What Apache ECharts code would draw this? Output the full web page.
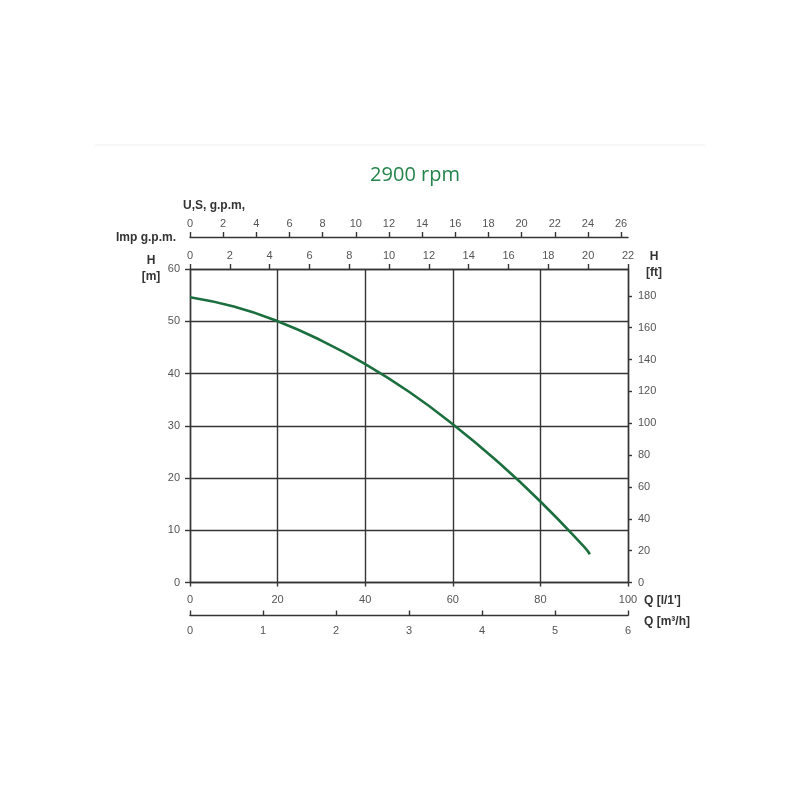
<!DOCTYPE html>
<html>
<head>
<meta charset="utf-8">
<script src="https://cdn.jsdelivr.net/npm/echarts@6/dist/echarts.min.js"></script>
<style>
html,body{margin:0;padding:0;background:#fff;}
#chart{width:800px;height:800px;}
</style>
</head>
<body>
<div id="chart"></div>
<script>
// Pump curve data: flow Q [l/min] and head H [m]
var flowLpm = [0, 10, 20, 30, 40, 50, 60, 70, 80, 90, 91.3];
var headM   = [54.6, 52.8, 50.0, 46.3, 41.8, 36.5, 30.3, 23.3, 15.5, 6.8, 5.4];

// Tick label values
var usGpmTicks = [0, 2, 4, 6, 8, 10, 12, 14, 16, 18, 20, 22, 24, 26];
var ftTicks = [0, 20, 40, 60, 80, 100, 120, 140, 160, 180];

var titleText = '2900 rpm';

var lineColor = '#353535';
var labelColor = '#555';
var labelFont = 'Liberation Sans, Arial, sans-serif';

function axisCommon() {
  return {
    axisLine: {show: true, onZero: false, lineStyle: {color: lineColor, width: 1.4}},
    axisLabel: {color: labelColor, fontSize: 11, fontFamily: labelFont},
    splitLine: {show: false}
  };
}

var curveData = flowLpm.map(function (q, i) { return [q, headM[i]]; });

var chart = echarts.init(document.getElementById('chart'));

var xQ = Object.assign(axisCommon(), {
  type: 'value', position: 'bottom', min: 0, max: 100, interval: 20,
  axisTick: {show: true, length: 4, lineStyle: {color: lineColor, width: 1.4}},
  splitLine: {show: true, lineStyle: {color: lineColor, width: 1.4}}
});
xQ.axisLabel.margin = 12;

var xM3 = Object.assign(axisCommon(), {
  type: 'value', position: 'bottom', offset: 33, min: 0, max: 6, interval: 1,
  axisTick: {show: true, inside: true, length: 5, lineStyle: {color: lineColor, width: 1.4}}
});
xM3.axisLabel.margin = 10;

var xImp = Object.assign(axisCommon(), {
  type: 'value', position: 'top', min: 0, max: 22, interval: 2,
  axisTick: {show: true, length: 5, lineStyle: {color: lineColor, width: 1.4}}
});
xImp.axisLabel.margin = 8;

var xUS = Object.assign(axisCommon(), {
  type: 'value', position: 'top', offset: 32, min: 0, max: 100 / 3.78541,
  axisTick: {show: true, length: 5, customValues: usGpmTicks, lineStyle: {color: lineColor, width: 1.4}}
});
xUS.axisLabel.margin = 8;
xUS.axisLabel.customValues = usGpmTicks;

var yM = Object.assign(axisCommon(), {
  type: 'value', position: 'left', min: 0, max: 60, interval: 10,
  axisTick: {show: true, length: 5, lineStyle: {color: lineColor, width: 1.4}},
  splitLine: {show: true, lineStyle: {color: lineColor, width: 1.4}}
});
yM.axisLabel.margin = 10;

var yFt = Object.assign(axisCommon(), {
  type: 'value', position: 'right', min: 0, max: 60 / 0.3048,
  axisTick: {show: true, length: 4, customValues: ftTicks, lineStyle: {color: lineColor, width: 1.4}}
});
yFt.axisLabel.margin = 10;
yFt.axisLabel.customValues = ftTicks;

function txt(text, x, y, align) {
  return {
    type: 'text', x: x, y: y, silent: true,
    style: {
      text: text, fill: '#333', align: align, verticalAlign: 'middle',
      textAlign: align, textVerticalAlign: 'middle',
      font: 'bold 12px ' + labelFont
    }
  };
}

chart.setOption({
  animation: false,
  backgroundColor: '#fff',
  title: {
    text: titleText, left: 410, top: 160, textAlign: 'center',
    textStyle: {fontFamily: 'Open Sans', fontSize: 20, fontWeight: 'normal', color: '#24844b'}
  },
  grid: {left: 190, right: 172, top: 269, bottom: 217.5, containLabel: false},
  xAxis: [xQ, xM3, xImp, xUS],
  yAxis: [yM, yFt],
  graphic: [
    {type: 'line', silent: true, shape: {x1: 95, y1: 145, x2: 705, y2: 145}, style: {stroke: '#f0f0f0', lineWidth: 1}},
    txt('U,S, g.p.m,', 183, 206, 'left'),
    txt('Imp g.p.m.', 116, 238, 'left'),
    txt('H', 151, 261, 'center'),
    txt('[m]', 151, 277, 'center'),
    txt('H', 654, 257, 'center'),
    txt('[ft]', 654, 273, 'center'),
    txt("Q [l/1']", 644, 601, 'left'),
    txt('Q [m\u00B3/h]', 644, 622, 'left')
  ],
  series: [{
    type: 'line', xAxisIndex: 0, yAxisIndex: 0,
    data: curveData, smooth: true, showSymbol: false, symbol: 'none',
    lineStyle: {color: '#1b6e3e', width: 2.6}
  }]
});
</script>
</body>
</html>
